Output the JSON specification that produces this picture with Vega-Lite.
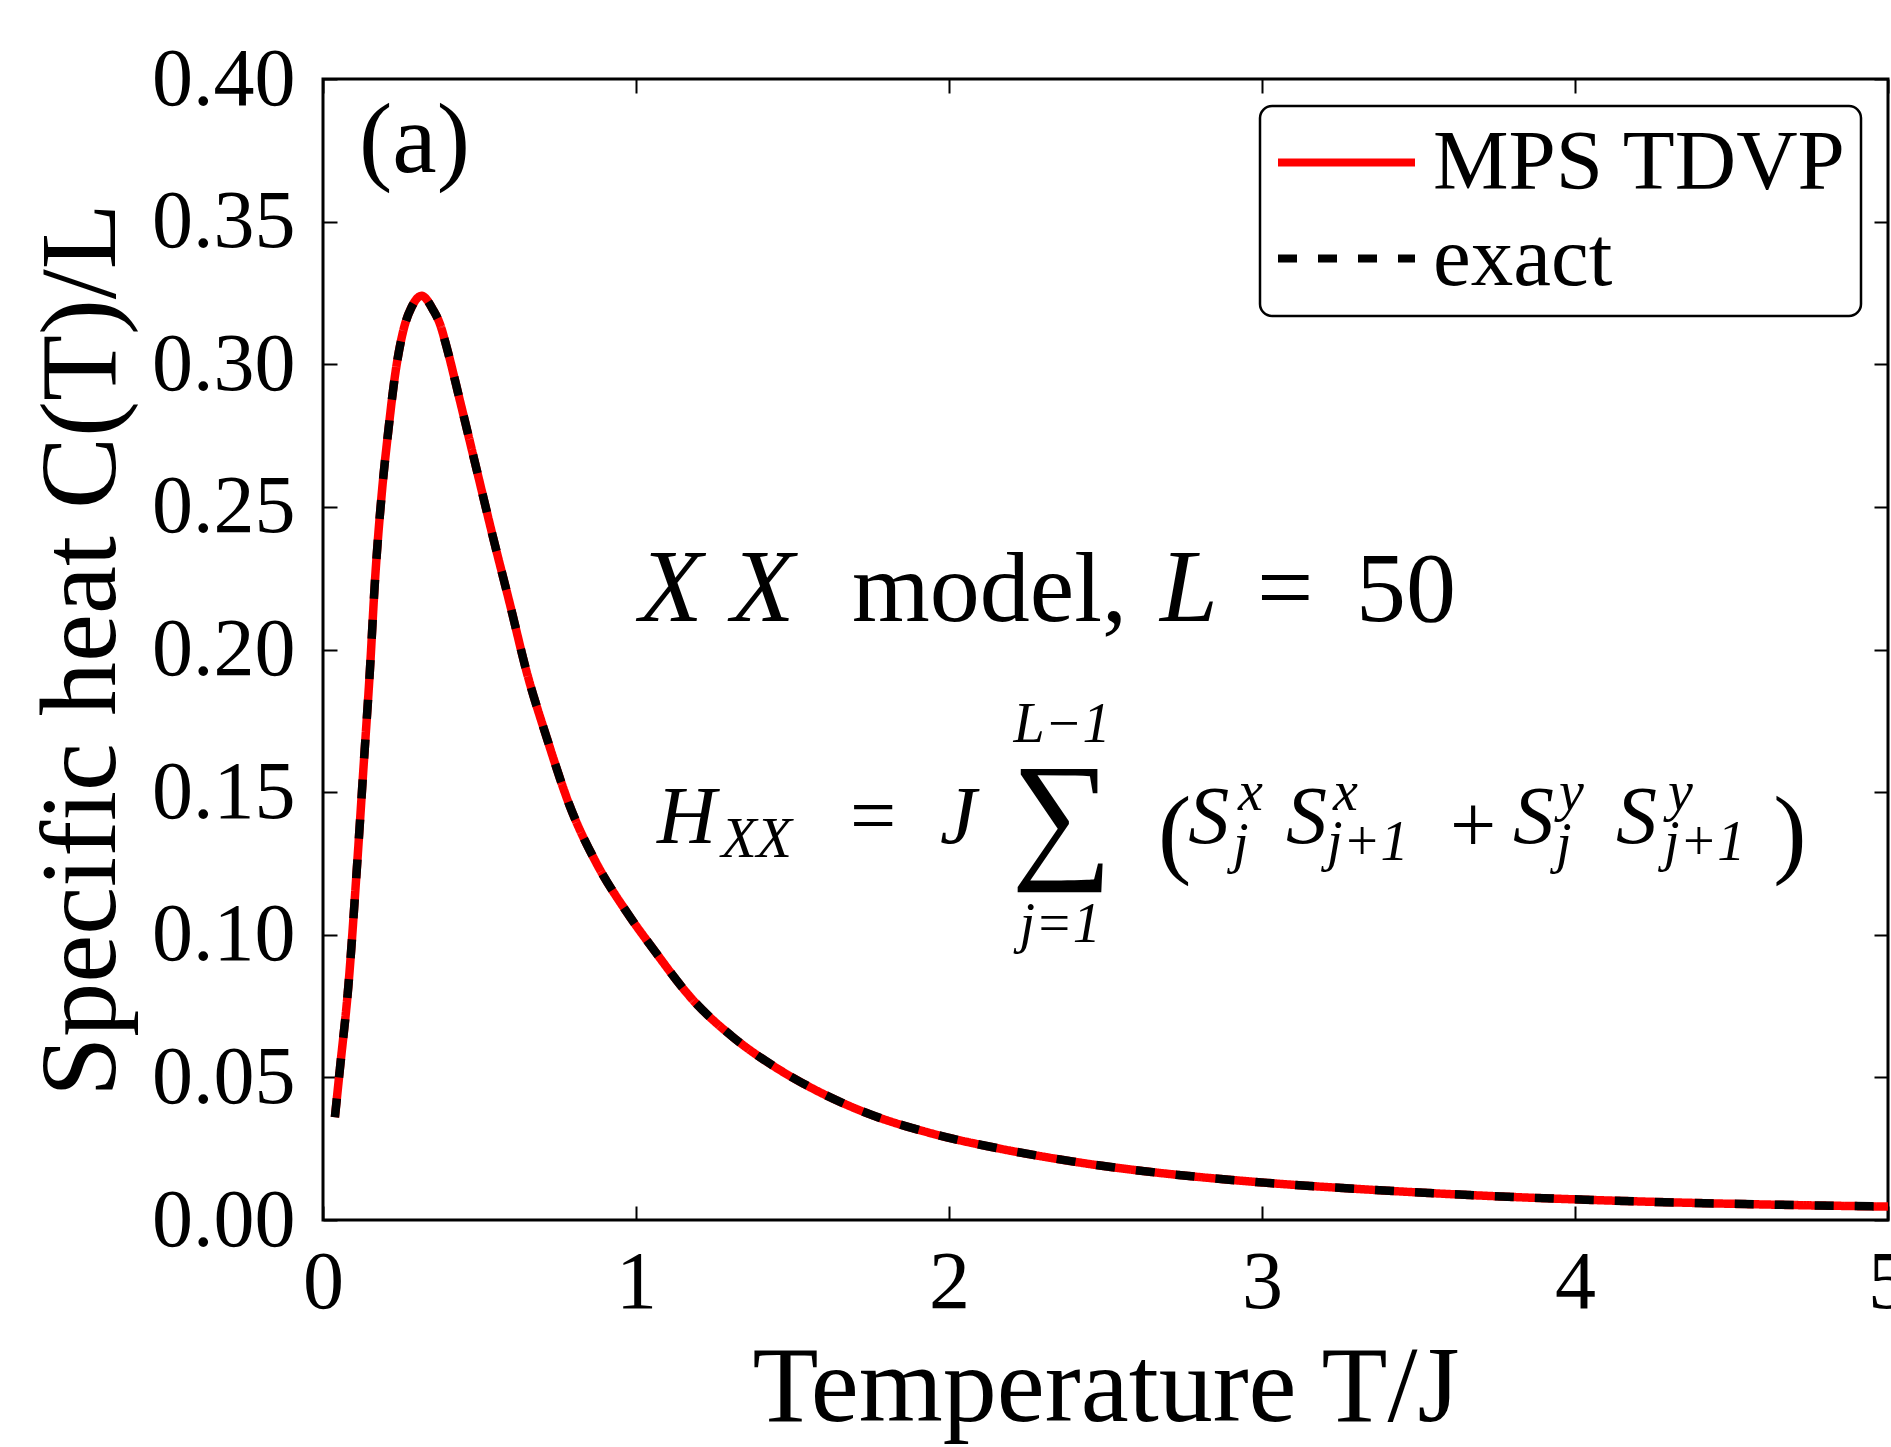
{
  "$schema": "https://vega.github.io/schema/vega-lite/v6.json",
  "width": 1565,
  "height": 1141,
  "autosize": {"type": "none"},
  "padding": {"left": 323, "top": 79, "right": 3, "bottom": 227},
  "background": "white",
  "config": {
    "font": "Liberation Serif",
    "view": {"stroke": "black", "strokeWidth": 3},
    "axis": {
      "domain": false, "grid": false,
      "tickColor": "black", "tickWidth": 2, "tickSize": -14,
      "labelColor": "black", "labelFont": "Liberation Serif", "labelFontSize": 82,
      "titleFont": "Liberation Serif", "titleFontSize": 108, "titleFontWeight": "normal", "titleColor": "black",
      "labelOverlap": false, "labelFlush": false
    },
    "legend": {
      "orient": "top-right", "offset": 27, "title": null,
      "labelFont": "Liberation Serif", "labelFontSize": 85, "labelColor": "black", "labelLimit": 1000,
      "symbolType": "stroke", "symbolSize": 18769, "symbolStrokeWidth": 8,
      "labelOffset": 14, "padding": 14, "rowPadding": 10, "clipHeight": 85,
      "fillColor": "white", "strokeColor": "black", "cornerRadius": 12, "strokeWidth": 2.5
    }
  },
  "datasets": {
    "curves": [
      {"T": 0.038, "C": 0.036, "series": "MPS TDVP"},
      {"T": 0.054, "C": 0.053, "series": "MPS TDVP"},
      {"T": 0.081, "C": 0.082, "series": "MPS TDVP"},
      {"T": 0.108, "C": 0.123, "series": "MPS TDVP"},
      {"T": 0.129, "C": 0.158, "series": "MPS TDVP"},
      {"T": 0.150, "C": 0.193, "series": "MPS TDVP"},
      {"T": 0.166, "C": 0.224, "series": "MPS TDVP"},
      {"T": 0.188, "C": 0.255, "series": "MPS TDVP"},
      {"T": 0.209, "C": 0.277, "series": "MPS TDVP"},
      {"T": 0.230, "C": 0.296, "series": "MPS TDVP"},
      {"T": 0.257, "C": 0.312, "series": "MPS TDVP"},
      {"T": 0.283, "C": 0.320, "series": "MPS TDVP"},
      {"T": 0.315, "C": 0.324, "series": "MPS TDVP"},
      {"T": 0.352, "C": 0.319, "series": "MPS TDVP"},
      {"T": 0.374, "C": 0.314, "series": "MPS TDVP"},
      {"T": 0.395, "C": 0.306, "series": "MPS TDVP"},
      {"T": 0.438, "C": 0.287, "series": "MPS TDVP"},
      {"T": 0.491, "C": 0.263, "series": "MPS TDVP"},
      {"T": 0.544, "C": 0.239, "series": "MPS TDVP"},
      {"T": 0.597, "C": 0.216, "series": "MPS TDVP"},
      {"T": 0.651, "C": 0.192, "series": "MPS TDVP"},
      {"T": 0.715, "C": 0.169, "series": "MPS TDVP"},
      {"T": 0.789, "C": 0.145, "series": "MPS TDVP"},
      {"T": 0.874, "C": 0.125, "series": "MPS TDVP"},
      {"T": 0.970, "C": 0.108, "series": "MPS TDVP"},
      {"T": 1.055, "C": 0.095, "series": "MPS TDVP"},
      {"T": 1.183, "C": 0.077, "series": "MPS TDVP"},
      {"T": 1.311, "C": 0.064, "series": "MPS TDVP"},
      {"T": 1.439, "C": 0.054, "series": "MPS TDVP"},
      {"T": 1.566, "C": 0.046, "series": "MPS TDVP"},
      {"T": 1.737, "C": 0.0375, "series": "MPS TDVP"},
      {"T": 1.950, "C": 0.0302, "series": "MPS TDVP"},
      {"T": 2.163, "C": 0.0250, "series": "MPS TDVP"},
      {"T": 2.323, "C": 0.0218, "series": "MPS TDVP"},
      {"T": 2.482, "C": 0.0191, "series": "MPS TDVP"},
      {"T": 2.665, "C": 0.0166, "series": "MPS TDVP"},
      {"T": 3.007, "C": 0.0131, "series": "MPS TDVP"},
      {"T": 3.349, "C": 0.0106, "series": "MPS TDVP"},
      {"T": 3.692, "C": 0.0086, "series": "MPS TDVP"},
      {"T": 4.034, "C": 0.0071, "series": "MPS TDVP"},
      {"T": 4.376, "C": 0.0060, "series": "MPS TDVP"},
      {"T": 4.719, "C": 0.0052, "series": "MPS TDVP"},
      {"T": 5.000, "C": 0.0047, "series": "MPS TDVP"},
      {"T": 0.038, "C": 0.036, "series": "exact"},
      {"T": 0.054, "C": 0.053, "series": "exact"},
      {"T": 0.081, "C": 0.082, "series": "exact"},
      {"T": 0.108, "C": 0.123, "series": "exact"},
      {"T": 0.129, "C": 0.158, "series": "exact"},
      {"T": 0.150, "C": 0.193, "series": "exact"},
      {"T": 0.166, "C": 0.224, "series": "exact"},
      {"T": 0.188, "C": 0.255, "series": "exact"},
      {"T": 0.209, "C": 0.277, "series": "exact"},
      {"T": 0.230, "C": 0.296, "series": "exact"},
      {"T": 0.257, "C": 0.312, "series": "exact"},
      {"T": 0.283, "C": 0.320, "series": "exact"},
      {"T": 0.315, "C": 0.324, "series": "exact"},
      {"T": 0.352, "C": 0.319, "series": "exact"},
      {"T": 0.374, "C": 0.314, "series": "exact"},
      {"T": 0.395, "C": 0.306, "series": "exact"},
      {"T": 0.438, "C": 0.287, "series": "exact"},
      {"T": 0.491, "C": 0.263, "series": "exact"},
      {"T": 0.544, "C": 0.239, "series": "exact"},
      {"T": 0.597, "C": 0.216, "series": "exact"},
      {"T": 0.651, "C": 0.192, "series": "exact"},
      {"T": 0.715, "C": 0.169, "series": "exact"},
      {"T": 0.789, "C": 0.145, "series": "exact"},
      {"T": 0.874, "C": 0.125, "series": "exact"},
      {"T": 0.970, "C": 0.108, "series": "exact"},
      {"T": 1.055, "C": 0.095, "series": "exact"},
      {"T": 1.183, "C": 0.077, "series": "exact"},
      {"T": 1.311, "C": 0.064, "series": "exact"},
      {"T": 1.439, "C": 0.054, "series": "exact"},
      {"T": 1.566, "C": 0.046, "series": "exact"},
      {"T": 1.737, "C": 0.0375, "series": "exact"},
      {"T": 1.950, "C": 0.0302, "series": "exact"},
      {"T": 2.163, "C": 0.0250, "series": "exact"},
      {"T": 2.323, "C": 0.0218, "series": "exact"},
      {"T": 2.482, "C": 0.0191, "series": "exact"},
      {"T": 2.665, "C": 0.0166, "series": "exact"},
      {"T": 3.007, "C": 0.0131, "series": "exact"},
      {"T": 3.349, "C": 0.0106, "series": "exact"},
      {"T": 3.692, "C": 0.0086, "series": "exact"},
      {"T": 4.034, "C": 0.0071, "series": "exact"},
      {"T": 4.376, "C": 0.0060, "series": "exact"},
      {"T": 4.719, "C": 0.0052, "series": "exact"},
      {"T": 5.000, "C": 0.0047, "series": "exact"}
    ]
  },
  "layer": [
    {
      "data": {"name": "curves"},
      "transform": [{"filter": "datum.series === 'MPS TDVP'"}],
      "mark": {"type": "line", "strokeWidth": 8.5, "strokeJoin": "round", "interpolate": "monotone"},
      "encoding": {
        "x": {"field": "T", "type": "quantitative",
              "scale": {"domain": [0, 5], "nice": false, "zero": false},
              "axis": {"orient": "bottom", "values": [0, 1, 2, 3, 4, 5], "format": "d", "title": "Temperature T/J", "labelPadding": 36, "titlePadding": 12}},
        "y": {"field": "C", "type": "quantitative",
              "scale": {"domain": [0, 0.4], "nice": false},
              "axis": {"orient": "left", "values": [0, 0.05, 0.1, 0.15, 0.2, 0.25, 0.3, 0.35, 0.4], "format": ".2f", "title": "Specific heat C(T)/L", "labelPadding": 42, "titlePadding": 14}},
        "color": {"field": "series", "type": "nominal",
                  "scale": {"domain": ["MPS TDVP", "exact"], "range": ["#ff0000", "#000000"]},
                  "legend": {"title": null}},
        "strokeDash": {"field": "series", "type": "nominal",
                       "scale": {"domain": ["MPS TDVP", "exact"], "range": [[1, 0], [19, 21]]},
                       "legend": {"title": null}}
      }
    },
    {
      "data": {"name": "curves"},
      "transform": [{"filter": "datum.series === 'exact'"}],
      "mark": {"type": "line", "strokeWidth": 8.5, "strokeJoin": "round", "interpolate": "monotone"},
      "encoding": {
        "x": {"field": "T", "type": "quantitative",
              "axis": {"orient": "top", "values": [0, 1, 2, 3, 4, 5], "labels": false, "title": null}},
        "y": {"field": "C", "type": "quantitative",
              "axis": {"orient": "right", "values": [0, 0.05, 0.1, 0.15, 0.2, 0.25, 0.3, 0.35, 0.4], "labels": false, "title": null}},
        "color": {"field": "series", "type": "nominal", "legend": {"title": null}},
        "strokeDash": {"field": "series", "type": "nominal", "legend": {"title": null}}
      }
    },
    {"data": {"values": [{}]}, "mark": {"type": "text", "text": "(a)", "fontSize": 100, "align": "left", "baseline": "alphabetic", "color": "black"},
     "encoding": {"x": {"datum": 0.115, "type": "quantitative", "axis": null}, "y": {"datum": 0.3675, "type": "quantitative", "axis": null}}},
    {"data": {"values": [{}]}, "mark": {"type": "text", "text": "X", "fontStyle": "italic", "fontSize": 104, "align": "left", "baseline": "alphabetic", "color": "black"},
     "encoding": {"x": {"datum": 1.01, "type": "quantitative", "axis": null}, "y": {"datum": 0.21, "type": "quantitative", "axis": null}}},
    {"data": {"values": [{}]}, "mark": {"type": "text", "text": "X", "fontStyle": "italic", "fontSize": 104, "align": "left", "baseline": "alphabetic", "color": "black"},
     "encoding": {"x": {"datum": 1.3035, "type": "quantitative", "axis": null}, "y": {"datum": 0.21, "type": "quantitative", "axis": null}}},
    {"data": {"values": [{}]}, "mark": {"type": "text", "text": "model,", "fontSize": 100, "align": "left", "baseline": "alphabetic", "color": "black"},
     "encoding": {"x": {"datum": 1.69, "type": "quantitative", "axis": null}, "y": {"datum": 0.21, "type": "quantitative", "axis": null}}},
    {"data": {"values": [{}]}, "mark": {"type": "text", "text": "L", "fontStyle": "italic", "fontSize": 104, "align": "left", "baseline": "alphabetic", "color": "black"},
     "encoding": {"x": {"datum": 2.674, "type": "quantitative", "axis": null}, "y": {"datum": 0.21, "type": "quantitative", "axis": null}}},
    {"data": {"values": [{}]}, "mark": {"type": "text", "text": "=", "fontSize": 100, "align": "left", "baseline": "alphabetic", "color": "black"},
     "encoding": {"x": {"datum": 2.984, "type": "quantitative", "axis": null}, "y": {"datum": 0.21, "type": "quantitative", "axis": null}}},
    {"data": {"values": [{}]}, "mark": {"type": "text", "text": "50", "fontSize": 100, "align": "left", "baseline": "alphabetic", "color": "black"},
     "encoding": {"x": {"datum": 3.3, "type": "quantitative", "axis": null}, "y": {"datum": 0.21, "type": "quantitative", "axis": null}}},
    {"data": {"values": [{}]}, "mark": {"type": "text", "text": "H", "fontStyle": "italic", "fontSize": 82, "align": "left", "baseline": "alphabetic", "color": "black"},
     "encoding": {"x": {"datum": 1.067, "type": "quantitative", "axis": null}, "y": {"datum": 0.1322, "type": "quantitative", "axis": null}}},
    {"data": {"values": [{}]}, "mark": {"type": "text", "text": "XX", "fontStyle": "italic", "fontSize": 58, "align": "left", "baseline": "alphabetic", "color": "black"},
     "encoding": {"x": {"datum": 1.272, "type": "quantitative", "axis": null}, "y": {"datum": 0.1273, "type": "quantitative", "axis": null}}},
    {"data": {"values": [{}]}, "mark": {"type": "text", "text": "=", "fontSize": 82, "align": "left", "baseline": "alphabetic", "color": "black"},
     "encoding": {"x": {"datum": 1.684, "type": "quantitative", "axis": null}, "y": {"datum": 0.1322, "type": "quantitative", "axis": null}}},
    {"data": {"values": [{}]}, "mark": {"type": "text", "text": "J", "fontStyle": "italic", "fontSize": 82, "align": "left", "baseline": "alphabetic", "color": "black"},
     "encoding": {"x": {"datum": 1.971, "type": "quantitative", "axis": null}, "y": {"datum": 0.1322, "type": "quantitative", "axis": null}}},
    {"data": {"values": [{}]}, "mark": {"type": "text", "text": "∑", "fontSize": 142, "align": "center", "baseline": "alphabetic", "color": "black"},
     "encoding": {"x": {"datum": 2.361, "type": "quantitative", "axis": null}, "y": {"datum": 0.1255, "type": "quantitative", "axis": null}}},
    {"data": {"values": [{}]}, "mark": {"type": "text", "text": "L−1", "fontStyle": "italic", "fontSize": 56, "align": "center", "baseline": "alphabetic", "color": "black"},
     "encoding": {"x": {"datum": 2.361, "type": "quantitative", "axis": null}, "y": {"datum": 0.1676, "type": "quantitative", "axis": null}}},
    {"data": {"values": [{}]}, "mark": {"type": "text", "text": "j=1", "fontStyle": "italic", "fontSize": 56, "align": "center", "baseline": "alphabetic", "color": "black"},
     "encoding": {"x": {"datum": 2.355, "type": "quantitative", "axis": null}, "y": {"datum": 0.0975, "type": "quantitative", "axis": null}}},
    {"data": {"values": [{}]}, "mark": {"type": "text", "text": "(", "fontSize": 100, "align": "left", "baseline": "alphabetic", "color": "black"},
     "encoding": {"x": {"datum": 2.668, "type": "quantitative", "axis": null}, "y": {"datum": 0.1245, "type": "quantitative", "axis": null}}},
    {"data": {"values": [{}]}, "mark": {"type": "text", "text": "S", "fontStyle": "italic", "fontSize": 82, "align": "left", "baseline": "alphabetic", "color": "black"},
     "encoding": {"x": {"datum": 2.764, "type": "quantitative", "axis": null}, "y": {"datum": 0.1322, "type": "quantitative", "axis": null}}},
    {"data": {"values": [{}]}, "mark": {"type": "text", "text": "x", "fontStyle": "italic", "fontSize": 56, "align": "left", "baseline": "alphabetic", "color": "black"},
     "encoding": {"x": {"datum": 2.923, "type": "quantitative", "axis": null}, "y": {"datum": 0.1438, "type": "quantitative", "axis": null}}},
    {"data": {"values": [{}]}, "mark": {"type": "text", "text": "j", "fontStyle": "italic", "fontSize": 56, "align": "left", "baseline": "alphabetic", "color": "black"},
     "encoding": {"x": {"datum": 2.907, "type": "quantitative", "axis": null}, "y": {"datum": 0.1255, "type": "quantitative", "axis": null}}},
    {"data": {"values": [{}]}, "mark": {"type": "text", "text": "S", "fontStyle": "italic", "fontSize": 82, "align": "left", "baseline": "alphabetic", "color": "black"},
     "encoding": {"x": {"datum": 3.077, "type": "quantitative", "axis": null}, "y": {"datum": 0.1322, "type": "quantitative", "axis": null}}},
    {"data": {"values": [{}]}, "mark": {"type": "text", "text": "x", "fontStyle": "italic", "fontSize": 56, "align": "left", "baseline": "alphabetic", "color": "black"},
     "encoding": {"x": {"datum": 3.227, "type": "quantitative", "axis": null}, "y": {"datum": 0.1438, "type": "quantitative", "axis": null}}},
    {"data": {"values": [{}]}, "mark": {"type": "text", "text": "j+1", "fontStyle": "italic", "fontSize": 56, "align": "left", "baseline": "alphabetic", "color": "black"},
     "encoding": {"x": {"datum": 3.208, "type": "quantitative", "axis": null}, "y": {"datum": 0.1262, "type": "quantitative", "axis": null}}},
    {"data": {"values": [{}]}, "mark": {"type": "text", "text": "+", "fontSize": 82, "align": "left", "baseline": "alphabetic", "color": "black"},
     "encoding": {"x": {"datum": 3.601, "type": "quantitative", "axis": null}, "y": {"datum": 0.129, "type": "quantitative", "axis": null}}},
    {"data": {"values": [{}]}, "mark": {"type": "text", "text": "S", "fontStyle": "italic", "fontSize": 82, "align": "left", "baseline": "alphabetic", "color": "black"},
     "encoding": {"x": {"datum": 3.802, "type": "quantitative", "axis": null}, "y": {"datum": 0.1322, "type": "quantitative", "axis": null}}},
    {"data": {"values": [{}]}, "mark": {"type": "text", "text": "y", "fontStyle": "italic", "fontSize": 56, "align": "left", "baseline": "alphabetic", "color": "black"},
     "encoding": {"x": {"datum": 3.949, "type": "quantitative", "axis": null}, "y": {"datum": 0.1438, "type": "quantitative", "axis": null}}},
    {"data": {"values": [{}]}, "mark": {"type": "text", "text": "j", "fontStyle": "italic", "fontSize": 56, "align": "left", "baseline": "alphabetic", "color": "black"},
     "encoding": {"x": {"datum": 3.939, "type": "quantitative", "axis": null}, "y": {"datum": 0.1255, "type": "quantitative", "axis": null}}},
    {"data": {"values": [{}]}, "mark": {"type": "text", "text": "S", "fontStyle": "italic", "fontSize": 82, "align": "left", "baseline": "alphabetic", "color": "black"},
     "encoding": {"x": {"datum": 4.131, "type": "quantitative", "axis": null}, "y": {"datum": 0.1322, "type": "quantitative", "axis": null}}},
    {"data": {"values": [{}]}, "mark": {"type": "text", "text": "y", "fontStyle": "italic", "fontSize": 56, "align": "left", "baseline": "alphabetic", "color": "black"},
     "encoding": {"x": {"datum": 4.297, "type": "quantitative", "axis": null}, "y": {"datum": 0.1438, "type": "quantitative", "axis": null}}},
    {"data": {"values": [{}]}, "mark": {"type": "text", "text": "j+1", "fontStyle": "italic", "fontSize": 56, "align": "left", "baseline": "alphabetic", "color": "black"},
     "encoding": {"x": {"datum": 4.284, "type": "quantitative", "axis": null}, "y": {"datum": 0.1262, "type": "quantitative", "axis": null}}},
    {"data": {"values": [{}]}, "mark": {"type": "text", "text": ")", "fontSize": 100, "align": "left", "baseline": "alphabetic", "color": "black"},
     "encoding": {"x": {"datum": 4.633, "type": "quantitative", "axis": null}, "y": {"datum": 0.1245, "type": "quantitative", "axis": null}}}
  ]
}
